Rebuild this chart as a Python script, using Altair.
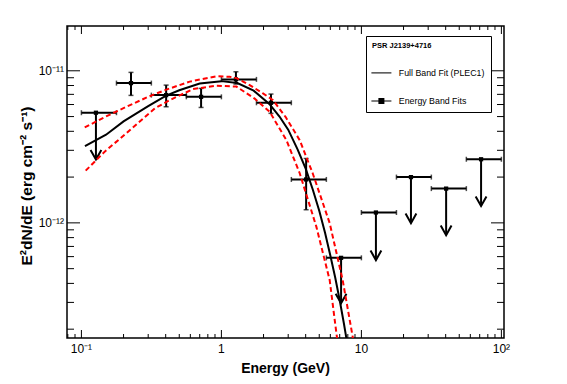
import altair as alt
import pandas as pd

# ---------------- values ----------------
# energy bands (GeV)
band_lo = [0.1, 0.178, 0.316, 0.562, 1.0, 1.78, 3.16, 5.62, 10.0, 17.8, 31.6, 56.2]
band_hi = [0.178, 0.316, 0.562, 1.0, 1.78, 3.16, 5.62, 10.0, 17.8, 31.6, 56.2, 100.0]
band_e = [0.127, 0.226, 0.403, 0.716, 1.27, 2.26, 4.03, 7.16, 12.7, 22.6, 40.3, 71.6]
# E^2 dN/dE (erg cm^-2 s^-1)
band_flux = [5.3e-12, 8.3e-12, 6.92e-12, 6.74e-12, 8.78e-12, 6.16e-12,
             1.93e-12, 5.89e-13, 1.17e-12, 2.0e-12, 1.68e-12, 2.62e-12]
band_err_lo = [None, 6.89e-12, 5.80e-12, 5.74e-12, 8.18e-12, 5.25e-12,
               1.22e-12, None, None, None, None, None]
band_err_hi = [None, 9.76e-12, 8.05e-12, 7.66e-12, 9.85e-12, 7.03e-12,
               2.65e-12, None, None, None, None, None]
band_ul_tip = [2.61e-12, None, None, None, None, None,
               None, 2.96e-13, 5.69e-13, 9.95e-13, 8.3e-13, 1.29e-12]

# full band fit (PLEC1), solid black
fit_e = [0.106, 0.15, 0.2, 0.3, 0.4, 0.5, 0.7, 1.0, 1.3, 1.7, 2.2, 2.6, 3.0, 3.5,
         4.0, 4.5, 5.0, 5.5, 6.0, 6.5, 7.0, 7.5, 8.0, 9.0]
fit_f = [3.2e-12, 3.8e-12, 4.65e-12, 5.85e-12, 6.85e-12, 7.45e-12, 8.25e-12, 8.55e-12,
         8.3e-12, 7.4e-12, 6.05e-12, 5.0e-12, 4.1e-12, 3.04e-12, 2.27e-12, 1.65e-12,
         1.2e-12, 8.6e-13, 6.1e-13, 4.37e-13, 3.1e-13, 2.18e-13, 1.53e-13, 7.5e-14]
# upper / lower envelopes (red dashed)
up_e = [0.1056, 0.1467, 0.2096, 0.3024, 0.4046, 0.5937, 0.921, 1.146, 1.28, 1.593,
        1.982, 2.337, 2.879, 3.626, 4.488, 5.938, 7.351, 8.669, 9.725]
up_f = [4.24e-12, 4.96e-12, 5.80e-12, 6.77e-12, 7.52e-12, 8.49e-12, 9.20e-12, 9.13e-12,
        8.95e-12, 8.05e-12, 7.10e-12, 6.41e-12, 4.96e-12, 3.50e-12, 2.12e-12, 9.95e-13,
        4.20e-13, 1.78e-13, 9.95e-14]
low_e = [0.1073, 0.1467, 0.2096, 0.334, 0.4272, 0.6267, 0.921, 1.28, 1.729, 2.213,
         2.913, 3.626, 4.771, 5.938, 6.63, 7.233]
low_f = [2.205e-12, 2.94e-12, 3.89e-12, 5.66e-12, 6.41e-12, 7.58e-12, 7.99e-12, 7.87e-12,
         6.56e-12, 5.37e-12, 3.50e-12, 2.12e-12, 9.41e-13, 4.20e-13, 1.88e-13, 1.07e-13]

# axes
x_domain = [0.0789, 104.4]
y_domain = [1.75e-13, 1.97e-11]
x_major = [0.1, 1, 10, 100]
x_major_labels = ["10⁻¹", "1", "10", "10²"]
y_major = [1e-12, 1e-11]
y_major_labels = ["10⁻¹²", "10⁻¹¹"]
x_minor = [0.08, 0.09, 0.2, 0.3, 0.4, 0.5, 0.6, 0.7, 0.8, 0.9, 2, 3, 4, 5, 6, 7,
           8, 9, 20, 30, 40, 50, 60, 70, 80, 90]
y_minor = [2e-13, 3e-13, 4e-13, 5e-13, 6e-13, 7e-13, 8e-13, 9e-13, 2e-12, 3e-12,
           4e-12, 5e-12, 6e-12, 7e-12, 8e-12, 9e-12]
legend_title = "PSR J2139+4716"
legend_labels = ["Full Band Fit (PLEC1)", "Energy Band Fits"]
x_title = "Energy (GeV)"
y_title = "E²dN/dE (erg cm⁻² s⁻¹)"

# ---------------- tables ----------------
pts = pd.DataFrame({"e": band_e, "lo": band_lo, "hi": band_hi, "f": band_flux,
                    "elo": band_err_lo, "ehi": band_err_hi, "tip": band_ul_tip})
det = pts[pts["tip"].isna()]
ul = pts[pts["tip"].notna()]
vseg = pd.DataFrame({"e": list(det["e"]) + list(ul["e"]),
                     "y1": list(det["elo"]) + list(ul["tip"]),
                     "y2": list(det["ehi"]) + list(ul["f"])})
hcaps = pd.DataFrame({"x": band_lo + band_hi, "f": band_flux + band_flux})
vcaps = pd.DataFrame({"e": list(det["e"]) * 2, "y": list(det["elo"]) + list(det["ehi"])})
fit_df = pd.DataFrame({"e": fit_e, "f": fit_f})
up_df = pd.DataFrame({"e": up_e, "f": up_f})
low_df = pd.DataFrame({"e": low_e, "f": low_f})
leg_df = pd.DataFrame({"series": legend_labels})
xlab_df = pd.DataFrame({"xv": x_major, "lab": x_major_labels})
ylab_df = pd.DataFrame({"yv": y_major, "lab": y_major_labels})

W, H = 437, 312
FONT = "Liberation Sans, Arial, Helvetica, sans-serif"
xs = alt.Scale(type="log", domain=x_domain, nice=False)
ys = alt.Scale(type="log", domain=y_domain, nice=False)


def X(field):
    return alt.X(field, type="quantitative", scale=xs, axis=None)


def Y(field):
    return alt.Y(field, type="quantitative", scale=ys, axis=None)


# ---------------- inward tick marks (ROOT style) on all four sides ----------------
def x_ticks(values, length, at_bottom):
    df = pd.DataFrame({"tx": values})
    y0, y1 = (H, H - length) if at_bottom else (0, length)
    return alt.Chart(df).mark_rule(color="black", strokeWidth=1).encode(
        x=X("tx"), y=alt.value(y0), y2=alt.value(y1))


def y_ticks(values, length, at_left):
    df = pd.DataFrame({"ty": values})
    x0, x1 = (0, length) if at_left else (W, W - length)
    return alt.Chart(df).mark_rule(color="black", strokeWidth=1).encode(
        y=Y("ty"), x=alt.value(x0), x2=alt.value(x1))


tick_layers = [
    x_ticks(x_major, 8, True), x_ticks(x_minor, 4, True),
    x_ticks(x_major, 8, False), x_ticks(x_minor, 4, False),
    y_ticks(y_major, 13, True), y_ticks(y_minor, 7, True),
    y_ticks(y_major, 13, False), y_ticks(y_minor, 7, False),
]

# ---------------- tick labels and titles ----------------
x_labels = alt.Chart(xlab_df).mark_text(font=FONT, fontSize=12, color="black",
                                        baseline="top", align="center").encode(
    x=X("xv"), y=alt.value(H + 6), text="lab:N")
y_labels = alt.Chart(ylab_df).mark_text(font=FONT, fontSize=12, color="black",
                                        baseline="middle", align="right").encode(
    y=Y("yv"), x=alt.value(-3), text="lab:N")
x_title_mark = alt.Chart(pd.DataFrame({"t": [x_title]})).mark_text(
    font=FONT, fontSize=14, fontWeight="bold", color="black", align="center",
    baseline="middle").encode(x=alt.value(218.5), y=alt.value(H + 31), text="t:N")
y_title_mark = alt.Chart(pd.DataFrame({"t": [y_title]})).mark_text(
    font=FONT, fontSize=15.5, fontWeight="bold", color="black", align="center",
    baseline="middle", angle=270).encode(x=alt.value(-40.5), y=alt.value(160), text="t:N")

# ---------------- data ----------------
hbars = alt.Chart(pts).mark_rule(color="black", strokeWidth=2).encode(
    x=X("lo"), x2="hi:Q", y=Y("f"))
hcap = alt.Chart(hcaps).mark_tick(color="black", orient="vertical", size=5, thickness=1.5).encode(
    x=X("x"), y=Y("f"))
vbars = alt.Chart(vseg).mark_rule(color="black", strokeWidth=2).encode(
    x=X("e"), y=Y("y1"), y2="y2:Q")
vcap = alt.Chart(vcaps).mark_tick(color="black", orient="horizontal", size=5, thickness=1.5).encode(
    x=X("e"), y=Y("y"))
arrows = alt.Chart(ul).mark_point(shape="M-0.9,-1.6L0,0L0.9,-1.6", filled=False, color="black",
                                  strokeWidth=2, size=144, opacity=1).encode(
    x=X("e"), y=Y("tip"))
markers = alt.Chart(pts).mark_square(color="black", size=18, opacity=1).encode(
    x=X("e"), y=Y("f"))

upper = alt.Chart(up_df).mark_line(color="#ff0000", strokeWidth=2, strokeDash=[5, 3], clip=True).encode(
    x=X("e"), y=Y("f"))
lower = alt.Chart(low_df).mark_line(color="#ff0000", strokeWidth=2, strokeDash=[5, 3], clip=True).encode(
    x=X("e"), y=Y("f"))
curve = alt.Chart(fit_df).mark_line(color="black", strokeWidth=2, clip=True).encode(
    x=X("e"), y=Y("f"))

# legend symbols: a thin filled bar (line) and a bar with a square
legend_shapes = ["M-1.25,-0.13H3.75V0.13H-1.25Z",
                 "M-1.25,-0.13H3.75V0.13H-1.25ZM0.5,-0.75H2V0.75H0.5Z"]
leg = alt.Chart(leg_df).mark_point(filled=True, color="black", clip=True, opacity=1).encode(
    x=alt.value(-300), y=alt.value(-300),
    shape=alt.Shape("series:N", scale=alt.Scale(domain=legend_labels, range=legend_shapes),
                    legend=alt.Legend(orient="none", legendX=299, legendY=10, title=legend_title,
                                      titleFont=FONT, titleFontSize=7.5, titleFontWeight="bold",
                                      titleColor="black", titlePadding=19, labelFont=FONT,
                                      labelFontSize=8.8, labelColor="black", labelOffset=18,
                                      labelExpr="datum.label + '\u00a0\u00a0\u00a0\u00a0\u00a0'",
                                      symbolSize=64, symbolFillColor="black",
                                      symbolStrokeWidth=0, symbolOpacity=1, rowPadding=18,
                                      padding=6, strokeColor="black", fillColor="white",
                                      cornerRadius=0)))

chart = alt.layer(
    x_labels, y_labels, x_title_mark, y_title_mark,
    hbars, hcap, vbars, vcap, arrows, markers, upper, lower, curve, leg, *tick_layers
).properties(
    width=W, height=H,
    padding={"left": 59, "top": 18, "right": 50, "bottom": 40},
    autosize=alt.AutoSizeParams(type="none"),
    background="white",
).configure_view(stroke="black", strokeWidth=1.5)

chart.save("out.html", embed_options={"renderer": "svg", "actions": False})
